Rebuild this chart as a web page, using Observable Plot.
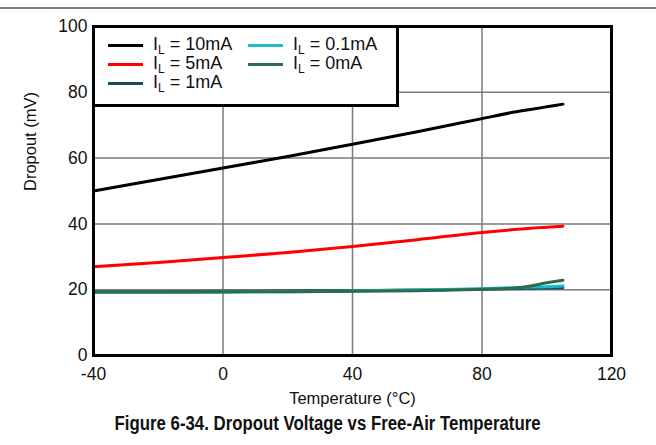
<!DOCTYPE html>
<html>
<head>
<meta charset="utf-8">
<script src="https://cdn.jsdelivr.net/npm/d3@7"></script>
<script src="https://cdn.jsdelivr.net/npm/@observablehq/plot@0.6"></script>
<style>
  html, body { margin: 0; padding: 0; background: #fff; width: 656px; height: 445px; overflow: hidden; }
  #wrap { position: relative; width: 656px; height: 445px; font-family: "Liberation Sans", Arial, sans-serif; }
  #rule { position: absolute; left: 0; top: 7px; width: 656px; height: 2px; background: #7a7a7a; }
  #chart { position: absolute; left: 0; top: 0; }
  #legend { position: absolute; left: 92px; top: 25px; width: 301px; height: 76px; border: 3px solid #000; background: #fff; box-sizing: content-box; }
  .item { position: absolute; font-size: 18px; color: #111; line-height: 18px; white-space: nowrap; }
  .sw { position: absolute; width: 35px; height: 3px; }
  .item sub { font-size: 12px; vertical-align: -4px; line-height: 0; }
  #caption { position: absolute; left: 0; width: 656px; top: 412px; text-align: center; font-family: "Liberation Sans", Arial, sans-serif; font-weight: bold; font-size: 20px; color: #111; }
  #caption span { display: inline-block; transform: scaleX(0.84); transform-origin: center; white-space: nowrap; }
</style>
</head>
<body>
<div id="wrap">
  <div id="rule"></div>
  <div id="chart"></div>
  <div id="legend"></div>
  <div id="caption"><span>Figure 6-34. Dropout Voltage vs Free-Air Temperature</span></div>
</div>
<script>
const temps     = [-40, -20, 0, 20, 40, 60, 80, 90, 95, 100, 105];
const il10mA    = [50.0, 53.5, 57.0, 60.5, 64.2, 68.0, 72.0, 74.0, 74.8, 75.6, 76.4];
const il5mA     = [27.0, 28.3, 29.8, 31.3, 33.1, 35.2, 37.4, 38.3, 38.7, 39.0, 39.3];
const il1mA     = [19.4, 19.4, 19.5, 19.6, 19.7, 19.9, 20.1, 20.3, 20.4, 20.5, 20.6];
const il01mA    = [19.2, 19.2, 19.3, 19.4, 19.6, 19.9, 20.3, 20.6, 20.8, 20.9, 21.1];
const il0mA     = [19.3, 19.3, 19.3, 19.4, 19.5, 19.7, 20.1, 20.5, 21.1, 22.1, 22.9];
const seriesNames  = ["10mA", "5mA", "1mA", "0.1mA", "0mA"];
const seriesColors = ["#000000", "#ff0000", "#184e5c", "#19bccb", "#2c6b4e"];
const xTicks = [-40, 0, 40, 80, 120];
const yTicks = [0, 20, 40, 60, 80, 100];

const seriesValues = [il10mA, il5mA, il1mA, il01mA, il0mA];
const data = [];
seriesNames.forEach((s, i) => temps.forEach((t, j) => data.push({series: s, t, v: seriesValues[i][j]})));

const chart = Plot.plot({
  width: 656,
  height: 445,
  marginLeft: 93,
  marginRight: 45,
  marginTop: 26,
  marginBottom: 90,
  style: { fontFamily: "'Liberation Sans', Arial, sans-serif", fontSize: "17px", color: "#111", background: "transparent" },
  x: { domain: [-40, 120], label: null },
  y: { domain: [0, 100], label: null },
  color: { domain: seriesNames, range: seriesColors },
  marks: [
    Plot.gridX(xTicks.slice(1, -1), { stroke: "#7a7a7a", strokeOpacity: 1, strokeWidth: 1.5 }),
    Plot.gridY(yTicks.slice(1, -1), { stroke: "#7a7a7a", strokeOpacity: 1, strokeWidth: 1.5 }),
    ...seriesNames.map(s => Plot.line(data.filter(d => d.series === s), {
      x: "t", y: "v", stroke: "series", strokeWidth: 3, curve: "monotone-x"
    })),
    Plot.frame({ stroke: "#000", strokeWidth: 3 }),
    Plot.axisX(xTicks, { tickSize: 0, tickPadding: 12, fontSize: 17.5, label: null, tickFormat: d => String(d) }),
    Plot.axisY(yTicks, { tickSize: 0, tickPadding: 6, fontSize: 17.5, label: null }),
    Plot.text(["Temperature (°C)"], { frameAnchor: "bottom", dy: 48, fontSize: 16.5 }),
    Plot.text(["Dropout (mV)"], { frameAnchor: "left", dx: -63, rotate: -90, fontSize: 16.5 })
  ]
});
document.getElementById("chart").appendChild(chart);

// Legend
const legend = document.getElementById("legend");
const pos = [
  {x: 13, y: 17}, {x: 13, y: 36}, {x: 13, y: 55},
  {x: 153, y: 17}, {x: 153, y: 36}
];
seriesNames.forEach((s, i) => {
  const p = pos[i];
  const sw = document.createElement("div");
  sw.className = "sw";
  sw.style.left = p.x + "px";
  sw.style.top = (p.y - 1) + "px";
  sw.style.background = seriesColors[i];
  legend.appendChild(sw);
  const it = document.createElement("div");
  it.className = "item";
  it.style.left = (p.x + 45) + "px";
  it.style.top = (p.y - 10) + "px";
  it.innerHTML = "I<sub>L</sub> = " + s;
  legend.appendChild(it);
});
</script>
</body>
</html>
